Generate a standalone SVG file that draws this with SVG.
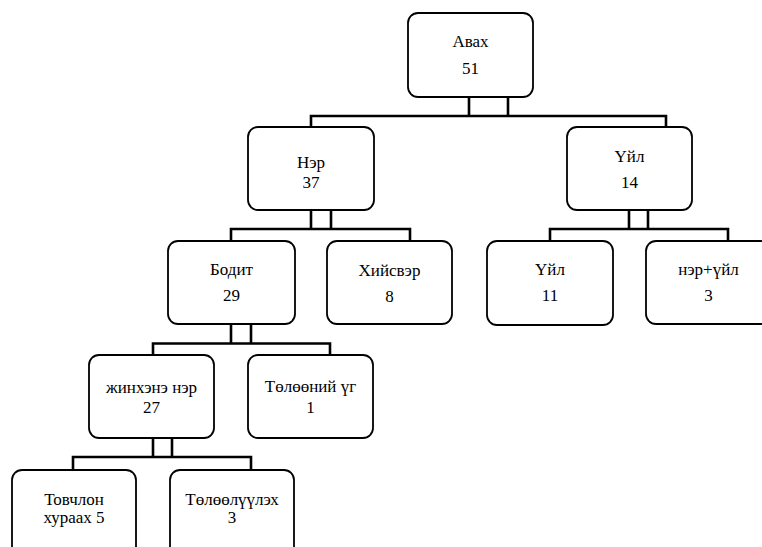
<svg xmlns="http://www.w3.org/2000/svg" width="762" height="547" viewBox="0 0 762 547" font-family="'Liberation Serif', 'DejaVu Serif', 'Times New Roman', serif">
<style>
.box{fill:#fff;stroke:#000;stroke-width:1.8}
.c{fill:none;stroke:#000;stroke-width:2.6;stroke-linejoin:miter}
.t{font-family:'Liberation Serif','DejaVu Serif','Times New Roman',serif;font-size:17px;fill:#000;text-anchor:middle}
</style>
<rect width="762" height="547" fill="#fff"/>
<g id="connectors">
<path class="c" d="M469,97 V116 M508,97 V116 M311,127 V116 H666 V127"/>
<path class="c" d="M311,210 V229 M331,210 V229 M231,241 V229 H410 V241"/>
<path class="c" d="M629,210 V229 M648,210 V229 M550,241 V229 H728 V241"/>
<path class="c" d="M231,324 V343.5 M251,324 V343.5 M153,355 V343.5 H330 V355"/>
<path class="c" d="M153,438 V457 M172,438 V457 M73,470 V457 H251 V470"/>
</g>
<g id="n-avah"><rect class="box" x="408" y="13" width="125" height="84" rx="10"/><text class="t" x="470.5" y="47">Авах</text><text class="t" x="470.5" y="74">51</text></g>
<g id="n-ner"><rect class="box" x="248" y="127" width="126" height="83" rx="10"/><text class="t" x="311" y="168">Нэр</text><text class="t" x="311" y="188">37</text></g>
<g id="n-uil"><rect class="box" x="567" y="127" width="125" height="83" rx="10"/><text class="t" x="629.5" y="162">Үйл</text><text class="t" x="629.5" y="188">14</text></g>
<g id="n-bodit"><rect class="box" x="168" y="241" width="127" height="83" rx="10"/><text class="t" x="231.5" y="275">Бодит</text><text class="t" x="231.5" y="301">29</text></g>
<g id="n-khiisver"><rect class="box" x="327" y="241" width="125" height="83" rx="10"/><text class="t" x="389.5" y="276">Хийсвэр</text><text class="t" x="389.5" y="302">8</text></g>
<g id="n-uil2"><rect class="box" x="487" y="241" width="126" height="84" rx="10"/><text class="t" x="550" y="275">Үйл</text><text class="t" x="550" y="301">11</text></g>
<g id="n-neruil"><rect class="box" x="646" y="241" width="125" height="83" rx="10"/><text class="t" x="708.5" y="275">нэр+үйл</text><text class="t" x="708.5" y="301">3</text></g>
<g id="n-jinkhene"><rect class="box" x="89" y="355" width="125" height="83" rx="10"/><text class="t" x="151.5" y="393">жинхэнэ нэр</text><text class="t" x="151.5" y="413">27</text></g>
<g id="n-tuluunii"><rect class="box" x="248" y="355" width="125" height="83" rx="10"/><text class="t" x="310.5" y="392">Төлөөний үг</text><text class="t" x="310.5" y="413">1</text></g>
<g id="n-tovchlon"><rect class="box" x="12" y="470" width="124" height="90" rx="10"/><text class="t" x="74" y="505">Товчлон</text><text class="t" x="74" y="523">хураах 5</text></g>
<g id="n-tuluulukh"><rect class="box" x="170" y="470" width="124" height="90" rx="10"/><text class="t" x="232" y="505">Төлөөлүүлэх</text><text class="t" x="232" y="523">3</text></g>
</svg>
